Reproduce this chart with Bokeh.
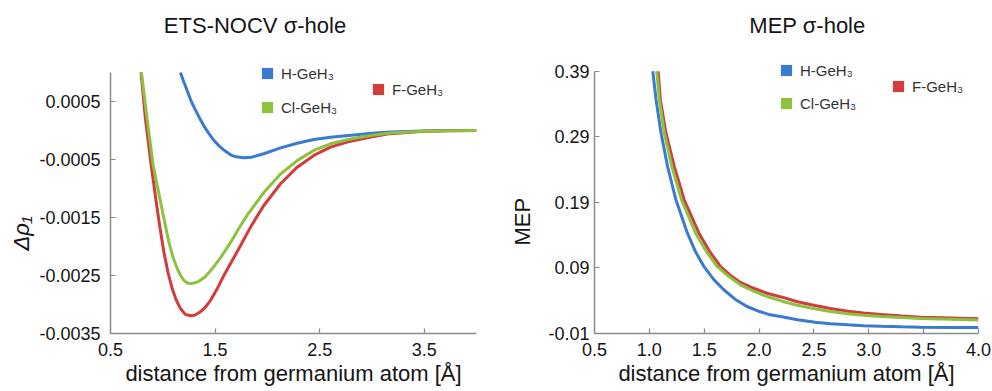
from bokeh.plotting import figure
from bokeh.models import (FixedTicker, PrintfTickFormatter, Legend, LegendItem,
                          Label, Range1d, Title)
from bokeh.layouts import row
from bokeh.embed import file_html
from bokeh.resources import INLINE

FONT = "Liberation Sans"
BLUE = "#3a7bd0"
GREEN = "#8cc23e"
RED = "#d23c3c"
AXIS = "#8c8c8c"
TEXT = "#151515"
NAN = float("nan")

series_names = ["H-GeH₃", "Cl-GeH₃", "F-GeH₃"]

# ---------------- ETS-NOCV sigma-hole (Δρ1) ----------------
ets_x_ticks = [0.5, 1.5, 2.5, 3.5]
ets_y_ticks = [0.0005, -0.0005, -0.0015, -0.0025, -0.0035]
ets_y_axis = (-0.0035, 0.001)

ets_h_x = [1.169, 1.2, 1.233, 1.27, 1.313, 1.35, 1.392, 1.44, 1.488, 1.54,
           1.6, 1.648, 1.7, 1.775, 1.85, 1.966, 2.126, 2.285, 2.444, 2.604,
           2.875, 3.0, 3.178, 3.496, 3.75, 4.0]
ets_h_y = [1.0e-3, 0.84e-3, 0.69e-3, 0.51e-3, 0.35e-3, 0.22e-3, 0.08e-3,
           -0.05e-3, -0.17e-3, -0.27e-3, -0.36e-3, -0.42e-3, -0.455e-3, -0.471e-3,
           -0.46e-3, -0.402e-3, -0.30e-3, -0.22e-3, -0.155e-3, -0.116e-3,
           -0.069e-3, -0.05e-3, -0.025e-3, -0.008e-3, -0.002e-3, 0.0]

ets_cl_x = [0.796, 0.85, 0.908, 0.978, 1.02, 1.058, 1.1, 1.138, 1.17, 1.2,
            1.23, 1.265, 1.3, 1.345, 1.4, 1.456, 1.55, 1.648, 1.727, 1.807,
            1.966, 2.126, 2.285, 2.444, 2.604, 2.763, 2.875, 3.0, 3.178, 3.496,
            3.75, 4.0]
ets_cl_y = [1.0e-3, 0.2e-3, -0.6e-3, -1.23e-3, -1.6e-3, -1.92e-3, -2.2e-3,
            -2.38e-3, -2.5e-3, -2.58e-3, -2.625e-3, -2.64e-3, -2.63e-3, -2.6e-3,
            -2.53e-3, -2.42e-3, -2.2e-3, -1.93e-3, -1.69e-3, -1.46e-3, -1.07e-3,
            -0.75e-3, -0.52e-3, -0.345e-3, -0.23e-3, -0.16e-3, -0.12e-3,
            -0.085e-3, -0.045e-3, -0.012e-3, -0.003e-3, 0.0]

ets_f_x = [0.792, 0.834, 0.889, 0.946, 0.975, 1.01, 1.05, 1.089, 1.13, 1.169,
           1.215, 1.265, 1.31, 1.36, 1.41, 1.456, 1.52, 1.584, 1.727, 1.839,
           1.966, 2.126, 2.285, 2.444, 2.604, 2.763, 2.875, 3.0, 3.178, 3.496,
           3.75, 4.0]
ets_f_y = [1.0e-3, 0.2e-3, -0.6e-3, -1.345e-3, -1.7e-3, -2.09e-3, -2.45e-3,
           -2.72e-3, -2.93e-3, -3.07e-3, -3.17e-3, -3.195e-3, -3.18e-3,
           -3.126e-3, -3.04e-3, -2.93e-3, -2.73e-3, -2.5e-3, -2.04e-3,
           -1.667e-3, -1.293e-3, -0.919e-3, -0.633e-3, -0.431e-3, -0.288e-3,
           -0.2e-3, -0.155e-3, -0.11e-3, -0.055e-3, -0.015e-3, -0.004e-3, 0.0]

# ---------------- MEP sigma-hole ----------------
mep_x_ticks = [0.5, 1.0, 1.5, 2.0, 2.5, 3.0, 3.5, 4.0]
mep_y_ticks = [-0.01, 0.09, 0.19, 0.29, 0.39]
mep_y_axis = (-0.01, 0.39)

mep_h_x = [1.031, 1.061, 1.106, 1.166, 1.242, 1.347, 1.42, 1.498, 1.588, 1.678,
           1.784, 1.89, 1.995, 2.1, 2.209, 2.35, 2.51, 2.65, 2.81, 2.95, 3.114,
           3.3, 3.475, 3.75, 4.0]
mep_h_y = [0.39, 0.347, 0.296, 0.245, 0.194, 0.143, 0.115, 0.092, 0.0722,
           0.0567, 0.042, 0.0312, 0.024, 0.0185, 0.0155, 0.011, 0.0073, 0.005,
           0.0033, 0.002, 0.0011, 0.0003, -0.0004, -0.0008, -0.001]

mep_cl_x = [1.067, 1.091, 1.136, 1.205, 1.293, 1.422, 1.52, 1.619, 1.725, 1.83,
            1.95, 2.071, 2.209, 2.35, 2.51, 2.65, 2.81, 2.95, 3.114, 3.3, 3.475,
            3.75, 4.0]
mep_cl_y = [0.39, 0.347, 0.296, 0.245, 0.194, 0.143, 0.115, 0.092, 0.0769,
            0.0643, 0.0545, 0.0465, 0.0393, 0.0332, 0.0277, 0.0236, 0.020,
            0.018, 0.016, 0.0144, 0.0129, 0.0117, 0.0105]

mep_f_x = [1.08, 1.1, 1.151, 1.227, 1.317, 1.452, 1.55, 1.649, 1.74, 1.83,
           1.95, 2.071, 2.209, 2.35, 2.51, 2.65, 2.81, 2.95, 3.114, 3.3, 3.475,
           3.75, 4.0]
mep_f_y = [0.39, 0.347, 0.296, 0.245, 0.194, 0.143, 0.115, 0.092, 0.0787,
           0.0679, 0.059, 0.0515, 0.0454, 0.0385, 0.0327, 0.0281, 0.024, 0.0213,
           0.019, 0.0168, 0.0149, 0.0136, 0.0124]


def style_axes(p, x_ticks, y_ticks, x_fmt, y_fmt, x_label, y_bounds, y_standoff):
    xa = p.xaxis[0]
    ya = p.yaxis[0]
    xa.ticker = FixedTicker(ticks=x_ticks)
    ya.ticker = FixedTicker(ticks=y_ticks)
    xa.formatter = PrintfTickFormatter(format=x_fmt)
    ya.formatter = PrintfTickFormatter(format=y_fmt)
    ya.bounds = y_bounds
    xa.axis_label = x_label
    for ax in (xa, ya):
        ax.axis_line_color = AXIS
        ax.axis_line_width = 1.5
        ax.major_tick_line_color = AXIS
        ax.major_tick_line_width = 1.2
        ax.major_tick_in = 5
        ax.major_tick_out = 0
        ax.minor_tick_line_color = None
        ax.major_label_text_font = FONT
        ax.major_label_text_font_size = "18px"
        ax.major_label_text_color = TEXT
    xa.axis_label_text_font = FONT
    xa.axis_label_text_font_size = "22px"
    xa.axis_label_text_color = TEXT
    xa.axis_label_text_font_style = "normal"
    xa.major_label_standoff = 9
    xa.axis_label_standoff = 2
    ya.major_label_standoff = y_standoff


def add_y_label(p, text, style, offset, standoff):
    p.add_layout(Title(text=text, align="left", offset=offset, standoff=standoff,
                       vertical_align="bottom", text_font=FONT,
                       text_font_size="22px", text_font_style=style,
                       text_color=TEXT), "left")


def add_legends(p, colors, names, pos1, spacing1, pos2):
    dummies = [p.quad(left=[NAN], right=[NAN], top=[NAN], bottom=[NAN],
                      fill_color=c, line_color=None) for c in colors]
    common = dict(padding=0, margin=0, border_line_color=None,
                  background_fill_alpha=0, glyph_width=14, glyph_height=14,
                  label_height=20, label_standoff=7,
                  label_text_font=FONT, label_text_font_size="15px",
                  label_text_color="#333333")
    leg1 = Legend(items=[LegendItem(label=names[0], renderers=[dummies[0]]),
                         LegendItem(label=names[1], renderers=[dummies[1]])],
                  location=pos1, spacing=spacing1, **common)
    leg2 = Legend(items=[LegendItem(label=names[2], renderers=[dummies[2]])],
                  location=pos2, **common)
    p.add_layout(leg1, "center")
    p.add_layout(leg2, "center")


def add_title(p, text, x):
    p.add_layout(Label(x=x, y=308, x_units="screen", y_units="screen",
                       text=text, text_align="center",
                       text_baseline="alphabetic", text_font=FONT,
                       text_font_size="22px", text_color=TEXT))


# ---------- left figure ----------
p1 = figure(width=496, height=391, x_range=Range1d(0.5, 4.0),
            y_range=Range1d(-0.0035, 0.00224), output_backend="svg",
            toolbar_location=None, min_border_left=110, min_border_right=20,
            min_border_top=0, min_border_bottom=58)
p1.outline_line_color = None
p1.grid.visible = False

p1.line(ets_h_x, ets_h_y, line_color=BLUE, line_width=3)
p1.line(ets_f_x, ets_f_y, line_color=RED, line_width=3)
p1.line(ets_cl_x, ets_cl_y, line_color=GREEN, line_width=3)

style_axes(p1, ets_x_ticks, ets_y_ticks, "%.1f", "%.4f",
           "distance from germanium atom [Å]", ets_y_axis, 10)
add_y_label(p1, "Δρ₁", "italic", 83, 6)
add_legends(p1, [BLUE, GREEN, RED], series_names, (150, 216), 14, (261, 234))
add_title(p1, "ETS-NOCV σ-hole", 144.5)

# ---------- right figure ----------
p2 = figure(width=496, height=391, x_range=Range1d(0.5, 4.0),
            y_range=Range1d(-0.01, 0.498), output_backend="svg",
            toolbar_location=None, min_border_left=95, min_border_right=14,
            min_border_top=0, min_border_bottom=58)
p2.outline_line_color = None
p2.grid.visible = False

p2.line(mep_h_x, mep_h_y, line_color=BLUE, line_width=3)
p2.line(mep_f_x, mep_f_y, line_color=RED, line_width=3)
p2.line(mep_cl_x, mep_cl_y, line_color=GREEN, line_width=3)

style_axes(p2, mep_x_ticks, mep_y_ticks, "%.1f", "%.2f",
           "distance from germanium atom [Å]", mep_y_axis, 5)
add_y_label(p2, "MEP", "normal", 88, 22)
add_legends(p2, [BLUE, GREEN, RED], series_names, (185, 220), 13, (297, 237))
add_title(p2, "MEP σ-hole", 213)

layout = row(p1, p2)
open("out.html", "w").write(file_html(layout, INLINE))
